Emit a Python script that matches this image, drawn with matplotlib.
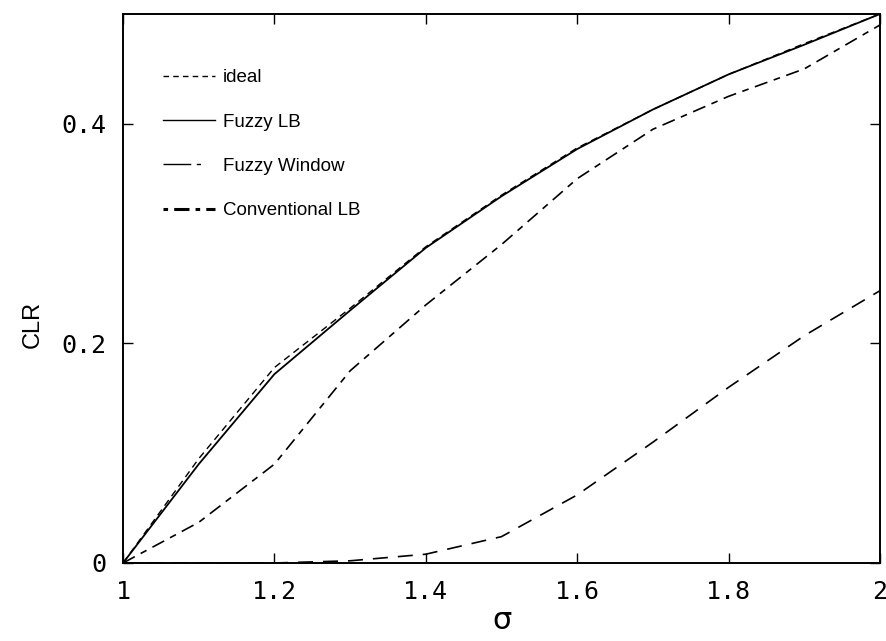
import matplotlib
matplotlib.use('Agg')
import matplotlib.pyplot as plt
from matplotlib.lines import Line2D

# sigma values
sigma = [1.0, 1.1, 1.2, 1.3, 1.4, 1.5, 1.6, 1.7, 1.8, 1.9, 2.0]

# CLR for each method
ideal = [0.0, 0.095, 0.178, 0.232, 0.288, 0.335, 0.378, 0.413, 0.445, 0.473, 0.5]
fuzzy_lb = [0.0, 0.090, 0.172, 0.230, 0.287, 0.334, 0.377, 0.413, 0.445, 0.472, 0.5]
fuzzy_window = [0.0, 0.037, 0.090, 0.175, 0.235, 0.290, 0.350, 0.395, 0.425, 0.450, 0.490]
conventional_lb = [0.0, 0.0, 0.0, 0.002, 0.008, 0.024, 0.062, 0.110, 0.160, 0.207, 0.248]

xticks = [1, 1.2, 1.4, 1.6, 1.8, 2]
xticklabels = ['1', '1.2', '1.4', '1.6', '1.8', '2']
yticks = [0, 0.2, 0.4]
yticklabels = ['0', '0.2', '0.4']

fig = plt.figure(figsize=(8.87, 6.41), dpi=100)
ax = fig.add_axes([0.1387, 0.1217, 0.8534, 0.8565])

ax.plot(sigma, ideal, color='black', lw=1.0, dashes=(5, 3.5))
ax.plot(sigma, fuzzy_lb, color='black', lw=1.3)
ax.plot(sigma, fuzzy_window, color='black', lw=1.2, dashes=(8, 4, 4, 4))
ax.plot(sigma, conventional_lb, color='black', lw=1.2, dashes=(9, 6))

ax.set_xlim(1, 2)
ax.set_ylim(0, 0.5)
ax.set_xticks(xticks)
ax.set_xticklabels(xticklabels, family='DejaVu Sans Mono', fontsize=18)
ax.set_yticks(yticks)
ax.set_yticklabels(yticklabels, family='DejaVu Sans Mono', fontsize=18)
ax.tick_params(direction='in', length=7, width=1, top=True, right=True, pad=12)
for s in ax.spines.values():
    s.set_linewidth(1.4)

ax.set_xlabel('σ', fontsize=22, family='DejaVu Sans', labelpad=2)
ax.set_ylabel('CLR', fontsize=17, family='Liberation Sans')
ax.yaxis.set_label_coords(-0.105, 0.435)

handles = [
    Line2D([], [], color='black', lw=1.0, dashes=(4, 3)),
    Line2D([], [], color='black', lw=1.0),
    Line2D([], [], color='black', lw=1.0, dashes=(20, 4, 3, 100)),
    Line2D([], [], color='black', lw=2.2, dashes=(1.5, 2, 5, 2)),
]
labels = ['ideal', 'Fuzzy LB', 'Fuzzy Window', 'Conventional LB']
ax.legend(handles, labels, loc='upper left', bbox_to_anchor=(0.03, 0.93),
          frameon=False, prop={'family': 'Liberation Sans', 'size': 13.5},
          handlelength=2.8, handletextpad=0.4, labelspacing=1.45)

fig.savefig('out.png', dpi=100)
